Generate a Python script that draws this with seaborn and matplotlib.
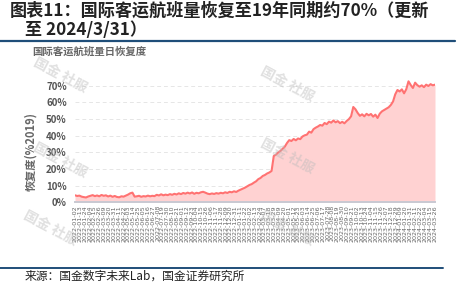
import matplotlib
matplotlib.use('Agg')
import matplotlib.pyplot as plt
import seaborn as sns
import pandas as pd
from matplotlib.lines import Line2D

sns.set_theme(style='white')
plt.rcParams['font.family'] = ['Noto Sans CJK SC', 'DejaVu Sans']

# ---- data (% of 2019 level, every 5 days) ----
start_date = '2022-01-02'
step_days = 5
recovery = [
    4.2, 3.8, 4.0, 3.4, 3.1, 2.9, 3.5, 3.9, 4.3, 3.7,
    4.1, 3.6, 4.4, 3.9, 4.2, 3.5, 4.0, 3.3, 3.8, 3.2,
    3.0, 3.6, 3.4, 4.0, 4.6, 5.4, 5.8, 3.4, 3.6, 3.9,
    3.3, 3.7, 3.5, 4.0, 3.6, 3.9, 3.7, 4.5, 4.1, 4.8,
    4.2, 4.6, 4.3, 4.9, 4.5, 5.1, 4.7, 5.4, 4.9, 5.6,
    5.2, 5.8, 5.3, 5.9, 5.1, 5.7, 5.4, 6.0, 6.3, 5.8,
    5.2, 4.9, 5.3, 5.0, 5.5, 5.2, 5.7, 5.4, 6.0, 5.6,
    6.3, 6.0, 6.6, 6.2, 7.0, 7.6, 8.2, 8.8, 9.6, 10.4,
    10.9, 11.8, 12.6, 13.9, 14.6, 15.8, 16.4, 17.3, 17.9, 18.8,
    27.8, 28.6, 29.9, 30.8, 32.1, 33.4, 35.6, 37.3, 36.8, 38.0,
    37.2, 38.3, 37.9, 39.5, 40.2, 40.6, 42.4, 41.8, 43.9, 44.8,
    45.5, 46.4, 46.0, 47.6, 46.9, 48.4, 47.8, 49.1, 48.0, 48.7,
    47.5, 48.3, 47.4, 48.8, 49.9, 51.6, 57.2, 55.8, 53.6, 51.9,
    52.8, 51.6, 53.1, 52.2, 53.0, 51.4, 52.6, 50.6, 53.2, 54.6,
    55.4, 56.2, 57.0, 58.4, 60.5, 64.8, 67.4, 66.5, 67.8, 65.4,
    67.9, 72.6, 70.4, 68.6, 71.8, 70.3, 69.4, 70.2, 69.1, 70.6,
    69.8, 70.9, 70.2, 70.6,
]
y_ticks = [0, 10, 20, 30, 40, 50, 60, 70]
tick_start = '2022-01-02'
tick_end = '2024-03-31'
tick_step = '11D'

title_line1 = '图表11：国际客运航班量恢复至19年同期约70%（更新'
title_line2 = '至 2024/3/31）'
chart_title = '国际客运航班量日恢复度'
y_label = '恢复度(%2019)'
source_text = '来源：国金数字未来Lab，国金证券研究所'
watermark = '国金 社服'

dates = pd.date_range(start_date, periods=len(recovery), freq=f'{step_days}D')
df = pd.DataFrame({'date': dates, 'recovery': recovery})

W, H = 464, 282
fig = plt.figure(figsize=(W / 100, H / 100), dpi=100)
fig.patch.set_facecolor('white')

ax = fig.add_axes([75 / W, 1 - 202.3 / H, 360 / W, 133.3 / H])
ax.fill_between(df['date'], df['recovery'], color='#FFD2D2', lw=0, zorder=1)
sns.lineplot(data=df, x='date', y='recovery', ax=ax, color='#FF7272', lw=1.5, zorder=3)

ax.set_ylim(0, 80)
ax.set_yticks(y_ticks)
ax.set_yticklabels([f'{v}%' for v in y_ticks], fontsize=7, color='#555555', fontweight='bold')
for v in y_ticks[1:]:
    ax.axhline(v, color='#E6E6E6', lw=0.7, ls=(0, (4, 3)), zorder=0)

ax.set_xlim(dates[0], dates[-1])
tick_dates = pd.date_range(tick_start, tick_end, freq=tick_step)
ax.set_xticks(tick_dates)
ax.set_xticklabels([d.strftime('%Y-%m-%d') for d in tick_dates], rotation=90,
                   fontsize=4.6, color='#666666', family='DejaVu Sans')
ax.tick_params(axis='x', length=0, pad=2)
ax.tick_params(axis='y', length=0, pad=6)

for s in ['top', 'right', 'left']:
    ax.spines[s].set_visible(False)
ax.spines['bottom'].set_color('#C9C9D2')
ax.spines['bottom'].set_linewidth(1.4)
ax.set_xlabel('')
ax.set_ylabel(y_label, fontsize=8, color='#666666', fontweight='bold')
ax.yaxis.set_label_coords(-0.105, 0.38)

# titles and decoration
fig.text(10 / W, 1 - 16 / H, title_line1, fontsize=12.3, fontweight='bold', color='#222222', va='baseline')
fig.text(25 / W, 1 - 35 / H, title_line2, fontsize=12.3, fontweight='bold', color='#222222', va='baseline')
fig.add_artist(Line2D([0, 455 / W], [1 - 40.5 / H] * 2, color='#1F4E79', lw=1.6))
fig.text(32 / W, 1 - 52 / H, chart_title, fontsize=7.5, fontweight='bold', color='#666666', va='center')
fig.add_artist(Line2D([0, 443 / W], [1 - 268 / H] * 2, color='#1F4E79', lw=1.4))
fig.text(25 / W, 1 - 276.5 / H, source_text, fontsize=8.5, color='#222222', va='center')

for (wx, wy) in [(60, 75), (287, 84), (60, 160), (287, 156), (50, 228), (287, 228)]:
    fig.text(wx / W, 1 - wy / H, watermark, fontsize=10, color='#BBBBBB', alpha=0.45,
             rotation=-28, ha='center', va='center', fontweight='bold', zorder=10)

fig.savefig('out.png', dpi=100, facecolor='white')
